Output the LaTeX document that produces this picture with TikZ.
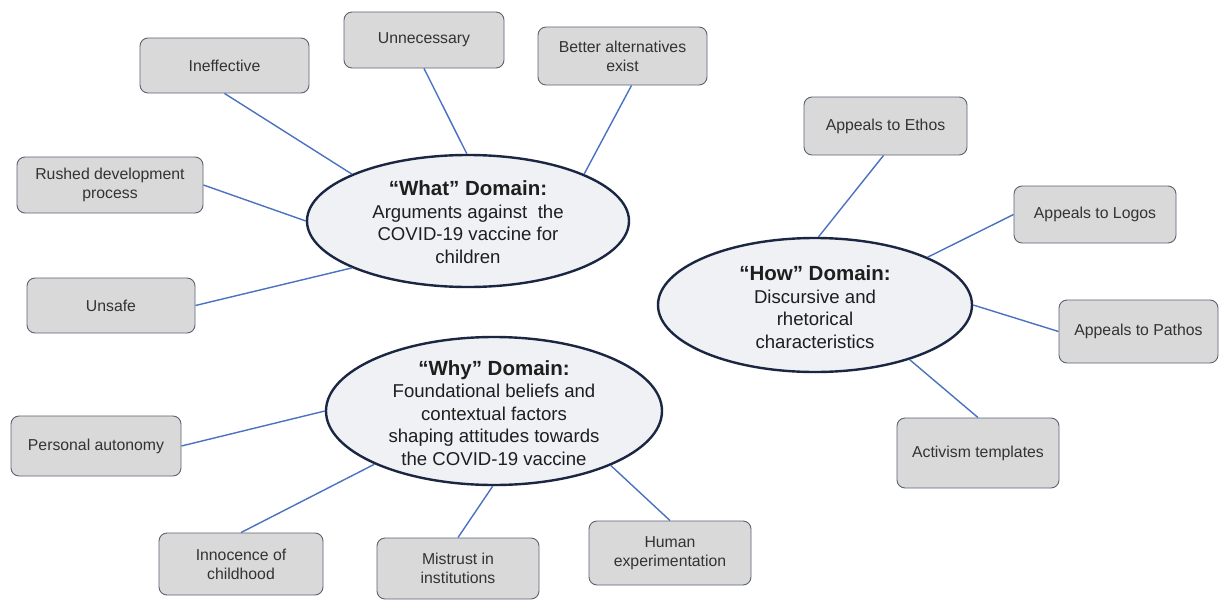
\documentclass[tikz,border=0pt]{standalone}
\usepackage{fontspec}
\setmainfont{Liberation Sans}
\usetikzlibrary{shapes.geometric}
\definecolor{boxfill}{HTML}{D9D9D9}
\definecolor{boxline}{HTML}{5A6372}
\definecolor{ellfill}{HTML}{F0F1F4}
\definecolor{ellline}{HTML}{1B2742}
\definecolor{conn}{HTML}{4A72C0}
\definecolor{boxtext}{HTML}{333333}
\definecolor{elltext}{HTML}{1E1E1E}
\begin{document}
\begin{tikzpicture}[x=1pt,y=-1pt,
 leaf/.style={draw=boxline, fill=boxfill, line width=0.9pt, rounded corners=8pt, align=center, inner sep=0pt, text=boxtext, font=\fontsize{15.8}{19}\selectfont},
 domainell/.style={draw=ellline, fill=ellfill, line width=2.4pt, ellipse, inner sep=0pt},
 dtext/.style={align=center, inner sep=0pt, text=elltext, font=\fontsize{18.6}{22.5}\selectfont},
 link/.style={draw=conn, line width=1.4pt}]
\useasboundingbox (0,0) rectangle (1219,600);
\fill[white] (0,0) rectangle (1219,600);

% domain ellipses
\node[domainell, minimum width=322pt, minimum height=132pt] (what) at (468,221) {};
\node[dtext] (whatt) at (468,222) {{\fontsize{20.5}{23}\selectfont\bfseries “What” Domain:}\\Arguments against\ \ the\\COVID-19 vaccine for\\children};

\node[domainell, minimum width=314pt, minimum height=134pt] (how) at (815,305) {};
\node[dtext] (howt) at (815,307) {{\fontsize{20.5}{23}\selectfont\bfseries “How” Domain:}\\Discursive and\\rhetorical\\characteristics};

\node[domainell, minimum width=336pt, minimum height=148pt] (why) at (494,411) {};
\node[dtext] (whyt) at (494,413) {{\fontsize{20.5}{23}\selectfont\bfseries “Why” Domain:}\\Foundational beliefs and\\contextual factors\\shaping attitudes towards\\the COVID-19 vaccine};

% leaf boxes
\node[leaf, minimum width=169pt, minimum height=55pt] (ineff) at (224.5,65.5) {Ineffective};
\node[leaf, minimum width=160pt, minimum height=56pt] (unnec) at (424,40) {Unnecessary};
\node[leaf, minimum width=169pt, minimum height=58pt] (better) at (622.5,56) {Better alternatives\\exist};
\node[leaf, minimum width=186pt, minimum height=56pt] (rushed) at (110,185) {Rushed development\\process};
\node[leaf, minimum width=168pt, minimum height=55pt] (unsafe) at (111,305.5) {Unsafe};

\node[leaf, minimum width=163pt, minimum height=58pt] (ethos) at (885.5,126) {Appeals to Ethos};
\node[leaf, minimum width=162pt, minimum height=57pt] (logos) at (1095,214.5) {Appeals to Logos};
\node[leaf, minimum width=159pt, minimum height=63pt] (pathos) at (1138.5,331.5) {Appeals to Pathos};
\node[leaf, minimum width=162pt, minimum height=70pt] (activ) at (978,453) {Activism templates};

\node[leaf, minimum width=170pt, minimum height=60pt] (auton) at (96,446) {Personal autonomy};
\node[leaf, minimum width=164pt, minimum height=62pt] (innoc) at (241,564) {Innocence of\\childhood};
\node[leaf, minimum width=162pt, minimum height=61pt] (mistr) at (458,568.5) {Mistrust in\\institutions};
\node[leaf, minimum width=162pt, minimum height=64pt] (human) at (670,553) {Human\\experimentation};

% connectors
\draw[link] (ineff.south) -- (what.158);
\draw[link] (unnec.south) -- (what.91);
\draw[link] ([xshift=9pt]better.south) -- (what.22.5);
\draw[link] (rushed.east) -- (what.180);
\draw[link] (unsafe.east) -- (what.202);

\draw[link] ([xshift=-2pt]ethos.south) -- (how.87.5);
\draw[link] (logos.west) -- (how.23.3);
\draw[link] (pathos.west) -- (how.0);
\draw[link] (activ.north) -- (how.-30.5);

\draw[link] (auton.east) -- (why.180);
\draw[link] (innoc.north) -- (why.204);
\draw[link] (mistr.north) -- (why.269);
\draw[link] (human.north) -- (why.335.6);
\end{tikzpicture}
\end{document}
